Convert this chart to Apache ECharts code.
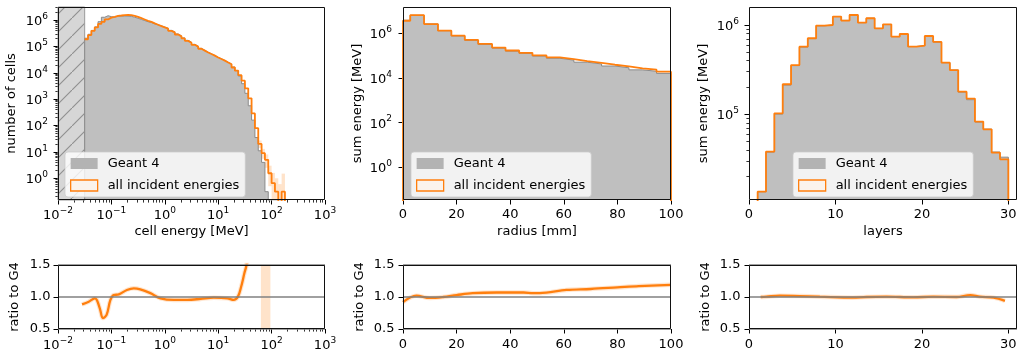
<!DOCTYPE html>
<html><head><meta charset="utf-8">
<script src="https://cdn.jsdelivr.net/npm/echarts@6/dist/echarts.min.js"></script>
<style>html,body{margin:0;padding:0;background:#fff}#c{width:1018px;height:357px}</style>
</head><body><div id="c"></div>
<script>
// ---------------- data ----------------
// cell energy histogram: log bins, 16 per decade starting at 10^-1.5 MeV
const cellLogStart = -1.5;
const cellBinsPerDecade = 16;
const cellG4 = [203700, 287400, 403500, 546900, 863400, 1270000, 1454000, 1337000, 1292000, 1396000,
  1409000, 1421000, 1412000, 1375000, 1275000, 1166000, 1049000, 951800, 859900, 799100,
  712500, 654500, 598000, 538500, 485000, 405200, 355000, 295300, 251300, 209400,
  169600, 144500, 119800, 101200, 83800, 71000, 60100, 52100, 45200, 38500,
  33600, 29300, 25000, 21500, 16500, 12100, 7530, 3850, 1660, 560,
  160, 35, 11, 4, 0.31, 0, 0, 0, 0, 0];
const cellAll = [186000, 269000, 389000, 525000, 708000, 851000, 1047000, 1230000, 1318000, 1445000,
  1479000, 1535000, 1560000, 1540000, 1445000, 1318000, 1175000, 1047000, 933000, 851000,
  741000, 661000, 589000, 525000, 468000, 389000, 339000, 282000, 240000, 200000,
  162000, 138000, 115000, 97700, 81300, 69200, 58900, 51300, 44700, 38000,
  33100, 28800, 24500, 20900, 15800, 12000, 8130, 5010, 2570, 1070,
  288, 79, 20, 8.9, 5.0, 1.55, 0.65, 0.31, 0, 0.31];
const cellErrBins = [52, 53, 54, 55, 56, 57, 58, 59];
const cellErrLo = [14, 5.5, 2.5, 0.5, 0.15, 0.15, 0.15, 0.15];
const cellErrHi = [27, 13, 8, 3, 1.6, 1.0, 0.6, 1.5];
const cellThreshold = [0.01, 0.0316];
const cellRatioE = [0.0282, 0.0376, 0.049, 0.0537, 0.0617, 0.0692, 0.0813, 0.0955, 0.110, 0.138,
  0.195, 0.263, 0.347, 0.537, 0.832, 1.48, 2.63, 4.68, 8.32, 14.8, 19.5, 23.4, 26.9, 30.9, 33.9, 36.3];
const cellRatio = [0.886, 0.927, 0.98, 0.95, 0.80, 0.67, 0.72, 0.95, 1.03, 1.04,
  1.11, 1.135, 1.12, 1.06, 0.98, 0.955, 0.955, 0.97, 0.99, 0.98, 0.955, 1.005, 1.16, 1.37, 1.5, 1.7];
const cellRatioBand = [63, 95];

// radial profile
const radiusEdges = [0, 2.7, 7.85, 13.05, 18.05, 23.05, 28.05, 33.25, 38.25, 43.35, 48.3,
  53.55, 58.55, 63.75, 68.75, 74.1, 79.1, 84.3, 89.4, 94.6, 100];
const radiusG4 = [3850000, 6400000, 2640000, 1315000, 765000, 482000, 317000, 216000, 159000, 126000,
  96200, 76400, 62900, 50900, 42500, 34400, 28600, 23100, 20000, 16100];
const radiusAll = [3660000, 6530000, 2600000, 1315000, 788000, 506000, 336000, 231000, 170000, 134000,
  102000, 82900, 69800, 57000, 48000, 39200, 33000, 26900, 23500, 19100];
const radiusRatioX = [0, 5, 10, 15, 20, 26, 35, 45, 48.5, 51, 61, 70, 80, 88, 100];
const radiusRatio = [0.92, 1.02, 0.985, 1.0, 1.03, 1.06, 1.07, 1.07, 1.06, 1.06, 1.11, 1.125, 1.15, 1.17, 1.19];

// longitudinal profile: 30 bins between layer 1 and 30
const layerRange = [1, 30];
const layerG4 = [13600, 37800, 100600, 212700, 350700, 564200, 704400, 979100, 1000000, 1245000,
  1127000, 1307000, 1064000, 1189000, 915300, 1011000, 740000, 794600, 573900, 587000,
  749300, 644100, 378000, 313000, 177200, 145600, 82000, 68200, 37800, 33100];
const layerAll = [13600, 38200, 102600, 217000, 356000, 571000, 710000, 984000, 1000000, 1239000,
  1119000, 1294000, 1062000, 1189000, 918000, 1016000, 740000, 793000, 571000, 587000,
  753000, 646000, 378000, 313000, 179000, 150000, 82800, 67900, 37200, 31300];
const layerRatioX = [1.35, 2.0, 3.55, 5.9, 8.2, 12, 13.6, 15.9, 19, 21.3, 24, 25.6, 26.7, 28.3, 29.6];
const layerRatio = [1.0, 1.005, 1.02, 1.015, 1.005, 0.99, 1.0, 1.005, 0.995, 1.005, 1.0, 1.03, 1.005, 0.99, 0.94];

// ticks
const cellXTicks = [0.01, 0.1, 1, 10, 100, 1000];
const cellYTicks = [1, 10, 100, 1000, 1e4, 1e5, 1e6];
const radiusYTicks = [1, 100, 1e4, 1e6];
const layerYTicks = [1e5, 1e6];
const radiusXTicks = [0, 20, 40, 60, 80, 100];
const layerXTicks = [0, 10, 20, 30];
const ratioTicks = [0.5, 1.0, 1.5];

// ---------------- helpers ----------------
const FONT = 'DejaVu Sans';
const ORANGE = '#ff7f0e';
function minorLog(d0, d1, lo, hi) {
  const r = [];
  for (let d = d0; d <= d1; d++) for (let m = 2; m <= 9; m++) { const v = m * Math.pow(10, d); if (v > lo && v < hi) r.push(v); }
  return r;
}
const cellEdges = Array.from({length: cellAll.length + 1}, (_, i) => Math.pow(10, cellLogStart + i / cellBinsPerDecade));
const layerEdges = Array.from({length: layerAll.length + 1}, (_, i) => layerRange[0] + i * (layerRange[1] - layerRange[0]) / layerAll.length);

function stepData(edges, vals, floor, noRise) {
  const f = v => (v > 0 ? v : floor);
  const d = noRise ? [] : [[edges[0], floor]];
  for (let i = 0; i < vals.length; i++) d.push([edges[i], f(vals[i])]);
  d.push([edges[vals.length], f(vals[vals.length - 1])]);
  d.push([edges[vals.length], floor]);
  return d;
}
function pow10Label(v) {
  const e = Math.round(Math.log10(v));
  return '{b|10}{s|' + (e < 0 ? '\u2212' + (-e) : e) + '}';
}
const powRich = {
  b: {fontFamily: FONT, fontSize: 13, lineHeight: 16, verticalAlign: 'bottom', color: '#000'},
  s: {fontFamily: FONT, fontSize: 9, verticalAlign: 'top', color: '#000'}
};

const G = [
  {left: 58, top: 7, width: 267, height: 193},
  {left: 403, top: 7, width: 268, height: 193},
  {left: 749, top: 7, width: 268, height: 193},
  {left: 58, top: 265, width: 267, height: 64},
  {left: 403, top: 265, width: 268, height: 64},
  {left: 749, top: 265, width: 268, height: 64}
];

const nameStyle = {fontFamily: FONT, fontSize: 13, color: '#000', lineHeight: 14};
function ax(gi, o) {
  const base = {
    gridIndex: gi, nameLocation: 'middle', nameTextStyle: nameStyle, nameMoveOverlap: false,
    axisLine: {show: false, onZero: false}, splitLine: {show: false}, minorSplitLine: {show: false},
    axisTick: {show: true, length: 4.5, lineStyle: {color: '#000', width: 1}},
    axisLabel: {fontFamily: FONT, fontSize: 13, color: '#000', lineHeight: 16}
  };
  const r = Object.assign({}, base, o);
  r.axisTick = Object.assign({}, base.axisTick, o.axisTick || {});
  r.axisLabel = Object.assign({}, base.axisLabel, o.axisLabel || {});
  return r;
}
function minorAx(gi, type, pos, min, max, values) {
  return {
    gridIndex: gi, type: type, position: pos, min: min, max: max, logBase: 10,
    axisLine: {show: false, onZero: false}, splitLine: {show: false}, axisLabel: {show: false},
    axisTick: {show: true, length: 2.6, customValues: values, lineStyle: {color: '#000', width: 0.8}}
  };
}

const cellYMin = 0.15, cellYMax = 3.11e6;
const radYMin = 0.0343, radYMax = 1.51e7;
const layYMin = 10970, layYMax = 1.59e6;

const xAxis = [
  ax(0, {type: 'log', logBase: 10, min: 0.01, max: 1000, position: 'bottom', name: 'cell energy [MeV]', nameGap: 25,
    axisTick: {customValues: cellXTicks}, axisLabel: {customValues: cellXTicks, formatter: pow10Label, rich: powRich, margin: 5.8}}),
  ax(1, {type: 'value', min: 0, max: 100, position: 'bottom', name: 'radius [mm]', nameGap: 25,
    axisTick: {customValues: radiusXTicks}, axisLabel: {customValues: radiusXTicks, margin: 6.5}}),
  ax(2, {type: 'value', min: 0, max: 31, position: 'bottom', name: 'layers', nameGap: 25,
    axisTick: {customValues: layerXTicks}, axisLabel: {customValues: layerXTicks, margin: 6.5}}),
  ax(3, {type: 'log', logBase: 10, min: 0.01, max: 1000, position: 'bottom',
    axisTick: {customValues: cellXTicks}, axisLabel: {customValues: cellXTicks, formatter: pow10Label, rich: powRich, margin: 7.3}}),
  ax(4, {type: 'value', min: 0, max: 100, position: 'bottom',
    axisTick: {customValues: radiusXTicks}, axisLabel: {customValues: radiusXTicks, margin: 7.7}}),
  ax(5, {type: 'value', min: 0, max: 31, position: 'bottom',
    axisTick: {customValues: layerXTicks}, axisLabel: {customValues: layerXTicks, margin: 7.7}}),
  minorAx(0, 'log', 'bottom', 0.01, 1000, minorLog(-2, 2, 0.01, 1000)),
  minorAx(3, 'log', 'bottom', 0.01, 1000, minorLog(-2, 2, 0.01, 1000))
];
const yAxis = [
  ax(0, {type: 'log', logBase: 10, min: cellYMin, max: cellYMax, position: 'left', name: 'number of cells', nameGap: 39, nameRotate: 90,
    axisTick: {customValues: cellYTicks}, axisLabel: {customValues: cellYTicks, formatter: pow10Label, rich: powRich, margin: 10}}),
  ax(1, {type: 'log', logBase: 10, min: radYMin, max: radYMax, position: 'left', name: 'sum energy [MeV]', nameGap: 38, nameRotate: 90,
    axisTick: {customValues: radiusYTicks}, axisLabel: {customValues: radiusYTicks, formatter: pow10Label, rich: powRich, margin: 11}}),
  ax(2, {type: 'log', logBase: 10, min: layYMin, max: layYMax, position: 'left', name: 'sum energy [MeV]', nameGap: 38, nameRotate: 90,
    axisTick: {customValues: layerYTicks}, axisLabel: {customValues: layerYTicks, formatter: pow10Label, rich: powRich, margin: 10}}),
  ax(3, {type: 'value', min: 0.5, max: 1.5, position: 'left', name: 'ratio to G4', nameGap: 36, nameRotate: 90,
    axisTick: {customValues: ratioTicks}, axisLabel: {customValues: ratioTicks, formatter: v => v.toFixed(1), margin: 7.5}}),
  ax(4, {type: 'value', min: 0.5, max: 1.5, position: 'left', name: 'ratio to G4', nameGap: 36, nameRotate: 90,
    axisTick: {customValues: ratioTicks}, axisLabel: {customValues: ratioTicks, formatter: v => v.toFixed(1), margin: 8.5}}),
  ax(5, {type: 'value', min: 0.5, max: 1.5, position: 'left', name: 'ratio to G4', nameGap: 36, nameRotate: 90,
    axisTick: {customValues: ratioTicks}, axisLabel: {customValues: ratioTicks, formatter: v => v.toFixed(1), margin: 8.5}}),
  minorAx(0, 'log', 'left', cellYMin, cellYMax, minorLog(-1, 6, cellYMin, cellYMax)),
  minorAx(2, 'log', 'left', layYMin, layYMax, minorLog(4, 5, layYMin, layYMax))
];

// hatch pattern for the threshold region
const hatch = document.createElement('canvas');
hatch.width = 18; hatch.height = 18;
(function () {
  const g = hatch.getContext('2d');
  g.fillStyle = '#d6d6d6'; g.fillRect(0, 0, 18, 18);
  g.strokeStyle = '#8e8e8e'; g.lineWidth = 1.1;
  g.beginPath(); g.moveTo(-1, 19); g.lineTo(19, -1); g.stroke();
})();

function g4Series(xi, yi, edges, vals, floor, extra) {
  return Object.assign({
    name: 'Geant 4', type: 'line', xAxisIndex: xi, yAxisIndex: yi, step: 'end', symbol: 'none', showSymbol: false,
    data: stepData(edges, vals, floor), z: 1, silent: true,
    lineStyle: {color: '#8a8a8a', width: 1},
    areaStyle: {color: '#bfbfbf', opacity: 1, origin: 'start'}
  }, extra || {});
}
function allSeries(xi, yi, edges, vals, floor, noRise) {
  return {
    name: 'all incident energies', type: 'line', xAxisIndex: xi, yAxisIndex: yi, step: 'end', symbol: 'none', showSymbol: false,
    data: stepData(edges, vals, floor, noRise), z: 4, silent: true,
    lineStyle: {color: ORANGE, width: 1.8}
  };
}
function ratioSeries(xi, yi, xs, ys, extraMark) {
  const data = xs.map((x, i) => [x, ys[i]]);
  return [
    {type: 'line', xAxisIndex: xi, yAxisIndex: yi, data: data, smooth: 0.35, symbol: 'none', showSymbol: false, z: 2, silent: true,
      lineStyle: {color: 'rgba(255,127,14,0.2)', width: 4.5},
      markLine: {silent: true, symbol: 'none', label: {show: false}, animation: false,
        lineStyle: {color: '#808080', width: 1.5, type: 'solid'},
        data: [{yAxis: 1.0}, {yAxis: 1.5}, {yAxis: 0.5}]},
      markArea: extraMark},
    {name: 'ratio', type: 'line', xAxisIndex: xi, yAxisIndex: yi, data: data, smooth: 0.35, symbol: 'none', showSymbol: false, z: 3, silent: true,
      lineStyle: {color: ORANGE, width: 2.3}}
  ];
}

const series = [
  g4Series(0, 0, cellEdges, cellG4, cellYMin / 100, {
    markArea: {silent: true, itemStyle: {color: {image: hatch, repeat: 'repeat'}, borderColor: '#9a9a9a', borderWidth: 1},
      data: [[{xAxis: cellThreshold[0]}, {xAxis: cellThreshold[1]}]]}
  }),
  {type: 'custom', xAxisIndex: 0, yAxisIndex: 0, z: 3, silent: true,
    data: cellErrBins.map((b, k) => [cellEdges[b], cellEdges[b + 1], cellErrLo[k], cellErrHi[k]]),
    encode: {x: [0, 1], y: [2, 3]},
    renderItem: function (params, api) {
      const p0 = api.coord([api.value(0), api.value(3)]);
      const p1 = api.coord([api.value(1), api.value(2)]);
      return {type: 'rect', shape: {x: p0[0], y: p0[1], width: p1[0] - p0[0], height: p1[1] - p0[1]},
        style: {fill: 'rgba(255,127,14,0.22)'}};
    }},
  allSeries(0, 0, cellEdges, cellAll, cellYMin / 100, true),
  g4Series(1, 1, radiusEdges, radiusG4, radYMin / 100),
  allSeries(1, 1, radiusEdges, radiusAll, radYMin / 100),
  g4Series(2, 2, layerEdges, layerG4, layYMin / 100),
  allSeries(2, 2, layerEdges, layerAll, layYMin / 100)
].concat(
  ratioSeries(3, 3, cellRatioE, cellRatio, {silent: true, itemStyle: {color: 'rgba(255,127,14,0.22)'},
    data: [[{xAxis: cellRatioBand[0]}, {xAxis: cellRatioBand[1]}]]}),
  ratioSeries(4, 4, radiusRatioX, radiusRatio),
  ratioSeries(5, 5, layerRatioX, layerRatio)
);

function legendAt(left) {
  return {
    left: left, top: 152, orient: 'vertical', itemWidth: 27, itemHeight: 11, itemGap: 9,
    padding: [5, 6, 5, 5], backgroundColor: 'rgba(255,255,255,0.8)', borderColor: 'rgba(204,204,204,0.8)',
    borderWidth: 1, borderRadius: 3, selectedMode: false,
    textStyle: {fontFamily: FONT, fontSize: 13, color: '#000', lineHeight: 11, padding: [0, 0, 0, 5]},
    data: [
      {name: 'Geant 4', icon: 'rect', itemStyle: {color: '#b3b3b3', borderWidth: 0, opacity: 1}},
      {name: 'all incident energies', icon: 'rect', itemStyle: {color: '#fbf3ec', borderColor: ORANGE, borderWidth: 1.3, opacity: 1}}
    ]
  };
}

const spines = G.map(g => ({
  type: 'rect', z: 100, silent: true,
  shape: {x: g.left + 0.5, y: g.top + 0.5, width: g.width - 1, height: g.height - 1},
  style: {fill: 'none', stroke: '#111', lineWidth: 1}
}));

const option = {
  animation: false,
  backgroundColor: '#fff',
  textStyle: {fontFamily: FONT},
  grid: G.map(g => Object.assign({show: false, containLabel: false, outerBoundsMode: 'none'}, g)),
  xAxis: xAxis,
  yAxis: yAxis,
  legend: [legendAt(65), legendAt(411), legendAt(793)],
  graphic: spines,
  series: series
};
const chart = echarts.init(document.getElementById('c'), null, {renderer: 'canvas'});
chart.setOption(option);
</script>
</body></html>
